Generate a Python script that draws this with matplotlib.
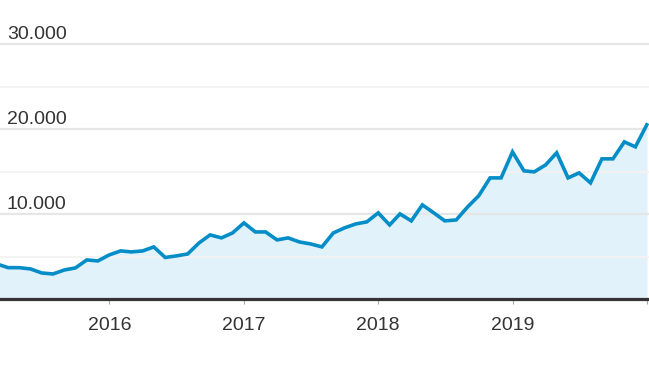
import matplotlib
matplotlib.use("Agg")
import matplotlib.pyplot as plt
import matplotlib.transforms as mtransforms
import pandas as pd

plt.rcParams["font.family"] = ["Liberation Sans", "DejaVu Sans"]

# monthly values, Mar 2015 .. Jan 2020
start_month = "2015-03-01"
values = [4180, 3740, 3740, 3590, 3120, 3000, 3470, 3710, 4650, 4530,
          5240, 5710, 5590, 5710, 6180, 4940, 5120, 5350, 6650, 7590,
          7240, 7820, 9000, 7940, 7940, 7000, 7240, 6760, 6530, 6180,
          7820, 8410, 8880, 9120, 10180, 8760, 10060, 9240, 11120, 10180,
          9240, 9350, 10880, 12180, 14290, 14290, 17350, 15120, 15000, 15820,
          17240, 14290, 14880, 13710, 16530, 16530, 18530, 17940, 20530]
months = pd.date_range(start_month, periods=len(values), freq="MS")

year_ticks = pd.to_datetime(["2016-01-01", "2017-01-01", "2018-01-01", "2019-01-01", "2020-01-01"])
year_labels = ["2016", "2017", "2018", "2019", ""]
y_labels = [30000, 20000, 10000]

fig = plt.figure(figsize=(6.49, 3.65), dpi=100)
ax = fig.add_axes([0, 0.1795, 1, 0.8205])

ax.fill_between(months, values, 0, color="#e1f2fa", zorder=1)
ax.plot(months, values, color="#058dc7", lw=2.6, zorder=3, solid_joinstyle="miter")

ax.set_xlim(pd.Timestamp("2015-03-10"), pd.Timestamp("2020-01-07"))
ax.set_ylim(0, 35200)

ax.set_yticks([0, 10000, 20000, 30000])
ax.set_yticks([5000, 15000, 25000], minor=True)
ax.grid(True, axis="y", which="major", color="#e6e6e6", lw=1.6, zorder=2)
ax.grid(True, axis="y", which="minor", color="#f3f3f3", lw=1.4, zorder=2)
ax.tick_params(axis="y", which="both", left=False, labelleft=False)

ax.set_xticks(year_ticks)
ax.xaxis.set_major_formatter(plt.FixedFormatter(year_labels))
ax.tick_params(axis="x", length=3.5, width=0.8, color="#aaaaaa", pad=9,
               labelsize=14, labelcolor="#333333")

for s in ["top", "left", "right"]:
    ax.spines[s].set_visible(False)
ax.spines["bottom"].set_color("#333333")
ax.spines["bottom"].set_linewidth(2.3)
ax.spines["bottom"].set_zorder(4)

offset = mtransforms.offset_copy(ax.get_yaxis_transform(), fig=fig, x=7, y=5, units="dots")
for v in y_labels:
    ax.text(0, v, f"{v:,}".replace(",", "."), transform=offset, fontsize=14,
            color="#333333", ha="left", va="baseline", zorder=5)

fig.savefig("out.png", dpi=100)
